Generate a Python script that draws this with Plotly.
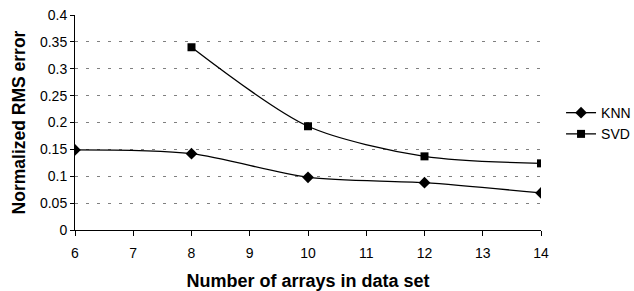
import plotly.graph_objects as go

x_knn = [6, 8, 10, 12, 14]
y_knn = [0.149, 0.142, 0.098, 0.088, 0.069]
x_svd = [8, 10, 12, 14]
y_svd = [0.340, 0.193, 0.137, 0.124]
y_ticks = [0, 0.05, 0.1, 0.15, 0.2, 0.25, 0.3, 0.35, 0.4]
y_ticktext = ["0", "0.05", "0.1", "0.15", "0.2", "0.25", "0.3", "0.35", "0.4"]

fig = go.Figure()
fig.add_trace(go.Scatter(x=x_knn, y=y_knn, name="KNN", mode="lines+markers",
                         line=dict(color="black", width=1.3, shape="spline", smoothing=0.8),
                         marker=dict(symbol="diamond", size=9, color="black")))
fig.add_trace(go.Scatter(x=x_svd, y=y_svd, name="SVD", mode="lines+markers",
                         line=dict(color="black", width=1.3, shape="spline", smoothing=0.8),
                         marker=dict(symbol="square", size=8, color="black")))

fig.update_layout(
    width=634, height=291,
    margin=dict(l=75, r=93, t=15, b=61, autoexpand=False),
    paper_bgcolor="white", plot_bgcolor="white",
    font=dict(family="Liberation Sans, Arial, sans-serif", size=14, color="black"),
    showlegend=True,
    legend=dict(x=1.043, y=0.495, xanchor="left", yanchor="middle",
                font=dict(size=14), itemwidth=30, tracegroupgap=0),
    xaxis=dict(range=[6, 14], tickmode="array", tickvals=list(range(6, 15)),
               showline=True, linecolor="black", linewidth=1, automargin=False,
               ticks="outside", ticklen=5, tickcolor="black", ticklabelstandoff=5,
               ticklabeloverflow="allow",
               showgrid=False, zeroline=False,
               title=dict(text="<b>Number of arrays in data set</b>", font=dict(size=18), standoff=14)),
    yaxis=dict(range=[0, 0.4], tickmode="array", tickvals=y_ticks, ticktext=y_ticktext,
               showline=True, linecolor="black", linewidth=1, automargin=False,
               ticks="outside", ticklen=4, tickcolor="black",
               ticklabeloverflow="allow",
               showgrid=True, gridcolor="#808080", griddash="3px,8px", gridwidth=1,
               zeroline=False,
               title=dict(text="<b>Normalized RMS error</b>", font=dict(size=17.5), standoff=9)),
)

fig.write_html("out.html", config={"displayModeBar": False},
               post_script="document.body.style.margin='0';document.body.style.overflow='hidden';")
